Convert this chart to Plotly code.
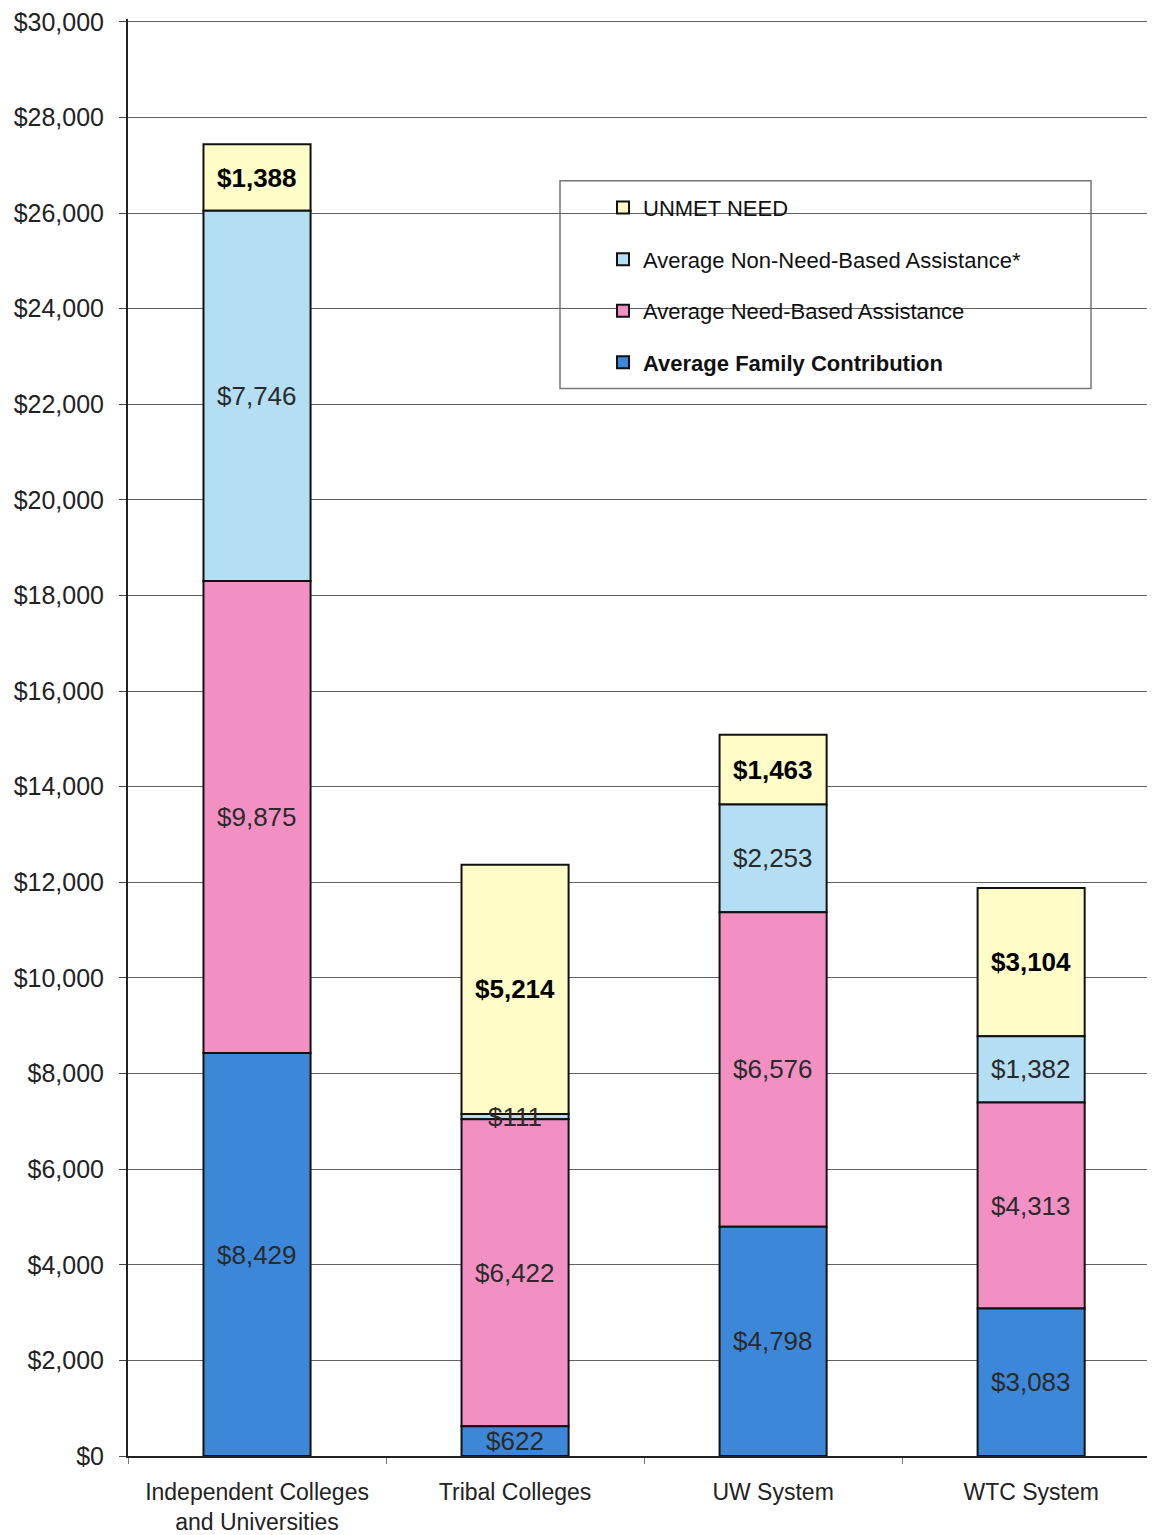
import plotly.graph_objects as go

categories = ["Independent Colleges<br>and Universities", "Tribal Colleges", "UW System", "WTC System"]
family = [8429, 622, 4798, 3083]
need_based = [9875, 6422, 6576, 4313]
non_need = [7746, 111, 2253, 1382]
unmet = [1388, 5214, 1463, 3104]

series = [
    ("<b>Average Family Contribution</b>", family, "#3d87d8", False, "#2a2a2a"),
    ("Average Need-Based Assistance", need_based, "#f290c4", False, "#2a2a2a"),
    ("Average Non-Need-Based Assistance*", non_need, "#b3def3", False, "#2a2a2a"),
    ("UNMET NEED", unmet, "#fffcc8", True, "#000000"),
]
y_ticks = list(range(0, 30001, 2000))
y_ticktext = ["$" + format(v, ",") for v in y_ticks]

FONT = "Liberation Sans, Arial"

# compute stacking bases
bases = []
base = [0] * len(categories)
for s in series:
    bases.append(base)
    base = [b + v for b, v in zip(base, s[1])]

fig = go.Figure()
annotations = []
# add in reverse so legend lists UNMET NEED first
for i in reversed(range(len(series))):
    name, vals, color, bold, tcolor = series[i]
    b0 = bases[i]
    fig.add_trace(go.Bar(
        x=categories, y=vals, name=name, base=b0,
        marker=dict(color=color, line=dict(color="#111111", width=2)),
        width=0.415, legendgroup="g%d" % i,
        hoverinfo="skip",
    ))
    for c, v, b in zip(categories, vals, b0):
        txt = "$" + format(v, ",")
        if bold:
            txt = "<b>" + txt + "</b>"
        annotations.append(dict(
            x=c, y=b + v / 2, xref="x", yref="y", text=txt, showarrow=False,
            font=dict(family=FONT, size=26, color=tcolor),
        ))

W, H = 1147, 1527
L, T, PH = 120, 10, 1439
PW = W - L
def px(x):
    return (x - 8 - L) / PW
def py(y):
    return (T + PH - (y - 8)) / PH

fig.update_layout(
    width=W, height=H,
    margin=dict(l=L, r=0, t=T, b=H - T - PH),
    paper_bgcolor="white", plot_bgcolor="white",
    barmode="overlay",
    font=dict(family=FONT, size=23, color="#222222"),
    showlegend=True,
    legend=dict(
        x=px(603), y=py(186), xanchor="left", yanchor="top",
        bgcolor="rgba(0,0,0,0)", borderwidth=0,
        traceorder="grouped", tracegroupgap=20,
        font=dict(family=FONT, size=22, color="#111111"),
        itemwidth=30,
    ),
    annotations=annotations,
    shapes=[dict(type="rect", xref="paper", yref="paper",
                 x0=px(560), x1=px(1091), y0=py(388), y1=py(180),
                 line=dict(color="#777777", width=1.5), fillcolor="white", layer="below")],
    xaxis=dict(range=[-0.5, 3.48], showline=True, linecolor="#222222", linewidth=2,
               ticks="outside", tickson="boundaries", ticklen=6, tickcolor="#777777",
               ticklabelstandoff=14,
               showgrid=False, tickfont=dict(family=FONT, size=23, color="#222222")),
    yaxis=dict(range=[0, 30060], tickvals=y_ticks, ticktext=y_ticktext,
               showline=True, linecolor="#222222", linewidth=2,
               ticks="outside", ticklen=7, tickcolor="#444444", ticklabelstandoff=10,
               ticklabeloverflow="allow",
               showgrid=True, gridcolor="#606060", gridwidth=1,
               tickfont=dict(family=FONT, size=25, color="#222222"), zeroline=False),
)

fig.write_html("out.html")
